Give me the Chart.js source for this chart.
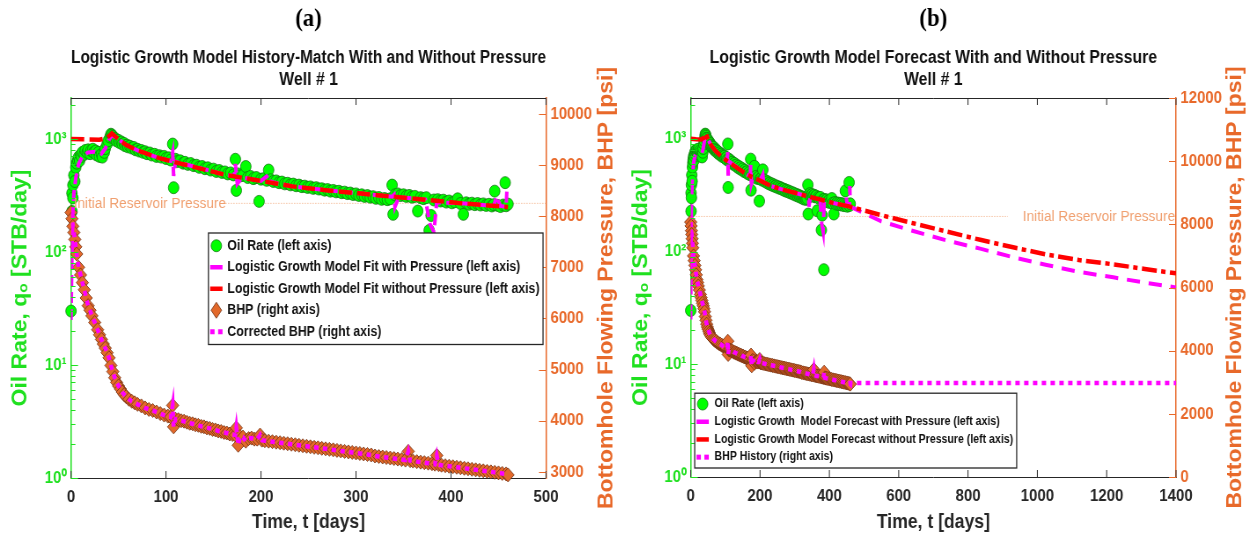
<!DOCTYPE html>
<html>
<head>
<meta charset="utf-8">
<script src="https://cdn.jsdelivr.net/npm/chart.js@4.4.1/dist/chart.umd.min.js"></script>
<style>
  html, body { margin: 0; padding: 0; background: #fff; }
  #wrap { position: relative; width: 1253px; height: 539px; overflow: hidden; }
  .panel { position: absolute; top: 0; height: 539px; overflow: hidden; }
  #pa { left: 0; width: 626px; }
  #pb { left: 626px; width: 627px; }
  /* the source figure is squeezed sideways; same here */
  canvas { transform: scaleX(0.88); transform-origin: 0 0; }
</style>
</head>
<body>
<div id="wrap">
  <div class="panel" id="pa"><canvas id="chartA" width="711" height="539"></canvas></div>
  <div class="panel" id="pb"><canvas id="chartB" width="713" height="539"></canvas></div>
</div>
<script>
// ---- values ----
// oil rate history, STB/day
var oilDays = [0,1,1,2,2,3,4,5,6,7,8,9,10,11,12,14,15,17,18,20,21,23,24,26,27,29,30,32,33,35,36,38,39,41,42,43,44,45,47,48,
  50,51,53,54,56,57,59,60,62,64,66,68,70,72,74,76,78,80,83,85,88,90,93,95,98,100,103,105,107,108,110,112,115,118,120,123,126,129,132,135,
  138,141,144,147,150,153,156,159,162,165,168,171,173,174,176,178,181,184,186,189,192,195,198,200,203,206,208,210,213,216,219,222,225,228,
  231,234,237,240,243,246,249,252,255,258,261,264,267,270,273,276,279,282,285,288,291,294,297,300,303,306,309,312,315,318,321,324,327,330,
  333,336,338,339,341,344,347,350,353,356,359,362,365,368,371,374,377,379,382,384,386,389,392,395,398,401,404,407,410,413,416,419,422,425,
  428,431,434,437,440,443,445,446,449,452,455,457,458,460];
var oilRate = [30,228,331,390,300,477,420,560,610,650,690,640,720,700,760,730,790,760,800,740,790,810,760,780,720,760,700,730,690,760,820,900,960,1040,1100,1080,1050,1010,1000,960,
  970,930,940,900,910,870,880,850,860,830,840,800,810,780,790,760,770,740,750,720,730,700,710,690,700,670,680,650,900,370,660,630,640,610,620,595,605,580,585,560,
  570,545,555,530,540,515,525,505,510,490,500,480,660,350,490,470,475,570,455,465,445,455,280,440,445,430,530,435,420,425,410,415,400,405,
  392,398,385,390,378,382,372,376,365,370,360,362,352,356,345,350,340,344,334,338,328,332,322,326,316,320,310,315,305,308,298,303,292,297,
  290,295,390,215,320,326,315,320,310,316,305,310,230,302,296,302,155,210,288,69,290,282,287,276,282,272,278,295,268,215,272,264,270,262,
  268,260,266,258,264,255,262,345,258,252,260,410,256,265];

// logistic growth model, history period, STB/day
var fitDays = [0,15,30,38,43,50,58,70,93,120,163,200,233,268,303,338,373,410,440,460];
var fitNoP  = [1000,990,985,1020,1120,990,885,790,675,590,480,425,380,352,330,308,290,270,258,250];
var fitPDays = [0,1,2,3,5,8,12,18,25,32,36,40,43,50,58,70,93,105,107,108,110,140,163,172,173,175,180,200,208,210,
  233,268,303,338,340,341,345,373,378,382,385,410,440,445,448,452,456,458,459];
var fitP = [25,95,230,330,450,600,700,760,770,740,820,980,1080,990,885,790,675,640,760,470,630,540,480,470,600,400,455,425,480,418,
  380,352,330,308,320,250,305,290,175,150,275,270,258,255,310,255,252,252,380];

// logistic growth model, forecast period, STB/day
var fcDays = [460,550,642,740,835,930,1027,1120,1219,1310,1400];
var fcNoP  = [250,210,178,150,127,109,94,84,77,70,64];
var fcP    = [250,185,152,125,106,89,76,66,59,53,48];

// bottomhole flowing pressure, psi
var bhpDays = [0,1,2,3,4,5,6,8,10,12,14,16,18,20,22,25,28,30,32,34,36,38,40,42,44,46,48,50,52,54,56,58,61,64,67,70,74,78,82,86,
  90,94,98,102,105,107,108,110,113,116,119,122,125,128,131,134,137,140,143,146,149,152,155,158,161,164,167,170,173,174,176,178,181,184,187,
  190,193,196,199,201,204,208,212,216,220,224,228,232,236,240,244,248,252,256,260,264,268,272,276,280,284,288,292,296,300,304,308,312,316,
  320,324,328,332,336,340,344,348,352,355,357,360,364,368,372,376,380,383,385,387,390,394,398,402,406,410,414,418,422,426,430,434,438,442,
  446,450,454,458,460];
var bhpPsi = [8070,7950,7800,7680,7545,7400,7260,7000,6850,6700,6560,6400,6250,6160,6050,5920,5780,5680,5590,5500,5420,5330,5230,5080,4960,4840,4750,4680,4620,4560,4510,4470,4420,4380,4350,4320,4290,4250,4220,4200,
  4170,4140,4110,4090,4070,4300,3880,4030,4020,4000,3990,3970,3950,3940,3920,3910,3890,3880,3860,3850,3830,3820,3800,3790,3770,3760,3740,3730,3720,3860,3520,3690,3680,3600,3650,
  3660,3640,3640,3720,3620,3610,3600,3590,3580,3570,3560,3550,3540,3530,3520,3510,3500,3490,3480,3470,3460,3450,3440,3430,3420,3410,3400,3390,3380,3370,3360,3350,3340,3330,
  3310,3300,3290,3280,3270,3260,3250,3240,3230,3400,3220,3210,3200,3190,3180,3170,3160,3150,3320,3140,3130,3120,3110,3100,3090,3080,3070,3060,3050,3040,3030,3020,3010,3000,
  2990,2980,2970,2960,2940];
// BHP held constant over the forecast
var bhpFlatDays = [460, 1400];
var bhpFlat = [2980, 2980];

var initPressure = 8250;
var initLineA = [160, 500];
var initLineB = [0, 915];

var rateTicks = [1, 10, 100, 1000];
var rateLabels = ['10\u2070', '10\u00b9', '10\u00b2', '10\u00b3'];
var bhpTicksA = [3000, 4000, 5000, 6000, 7000, 8000, 9000, 10000];
var bhpTicksB = [0, 2000, 4000, 6000, 8000, 10000, 12000];
var timeTicksA = [0, 100, 200, 300, 400, 500];
var timeTicksB = [0, 200, 400, 600, 800, 1000, 1200, 1400];

// ---- styling ----
var S = 0.88; // horizontal squeeze applied by css
var NARROW = '"Liberation Sans", Arial, sans-serif';
var WIDE = '"Liberation Sans", Arial, sans-serif';
var GREEN = '#1fe01f';
var ORANGE = '#e8692a';
var INK = '#262626';

function pts(xs, ys) {
  return xs.map(function (x, i) { return { x: x, y: ys[i] }; });
}

function setTicks(list) {
  return function (scale) { scale.ticks = list.map(function (v) { return { value: v }; }); };
}

function plain(v) { return String(v); }

function logTicks(scale) {
  var t = [];
  rateTicks.forEach(function (d) {
    for (var m = 1; m <= 9; m++) {
      if (d * m <= scale.max) t.push({ value: d * m, major: m === 1 });
    }
  });
  scale.ticks = t;
}

// matlab-like box: top edge and inward tick marks
var frame = {
  id: 'frame',
  afterDatasetsDraw: function (chart) {
    var ctx = chart.ctx, a = chart.chartArea, s = chart.scales;
    ctx.save();
    ctx.lineWidth = 1;
    ctx.strokeStyle = INK;
    ctx.beginPath();
    ctx.moveTo(a.left, a.top + 0.5); ctx.lineTo(a.right, a.top + 0.5);
    s.x.ticks.forEach(function (t) {
      var px = s.x.getPixelForValue(t.value);
      ctx.moveTo(px, a.bottom); ctx.lineTo(px, a.bottom - 7);
      ctx.moveTo(px, a.top); ctx.lineTo(px, a.top + 7);
    });
    ctx.stroke();
    ctx.strokeStyle = GREEN;
    ctx.beginPath();
    s.yL.ticks.forEach(function (t) {
      var py = Math.round(s.yL.getPixelForValue(t.value)) + 0.5;
      ctx.moveTo(a.left, py); ctx.lineTo(a.left + (t.major ? 8 : 5), py);
    });
    ctx.stroke();
    ctx.strokeStyle = ORANGE;
    ctx.beginPath();
    s.yR.ticks.forEach(function (t) {
      var py = Math.round(s.yR.getPixelForValue(t.value)) + 0.5;
      ctx.moveTo(a.right, py); ctx.lineTo(a.right - 8, py);
    });
    ctx.stroke();
    ctx.restore();
  }
};

// "Initial Reservoir Pressure" text next to its line
var initLabel = {
  id: 'initLabel',
  afterDatasetsDraw: function (chart, args, o) {
    var ctx = chart.ctx, a = chart.chartArea;
    var y = chart.scales.yR.getPixelForValue(initPressure);
    ctx.save();
    ctx.font = o.font;
    ctx.fillStyle = o.color;
    ctx.textBaseline = 'middle';
    if (o.side === 'left') {
      ctx.textAlign = 'left';
      ctx.fillText(o.text, a.left + 3, y);
    } else {
      ctx.textAlign = 'right';
      ctx.fillText(o.text, a.right - 1, y);
    }
    ctx.restore();
  }
};

// right axis title reads bottom-to-top like the left one
var rightTitle = {
  id: 'rightTitle',
  afterDraw: function (chart, args, o) {
    var ctx = chart.ctx, s = chart.scales.yR, a = chart.chartArea;
    ctx.save();
    ctx.translate(s.right - o.offset, (a.top + a.bottom) / 2);
    ctx.rotate(-Math.PI / 2);
    ctx.font = o.font;
    ctx.fillStyle = ORANGE;
    ctx.textAlign = 'center';
    ctx.textBaseline = 'middle';
    ctx.fillText(o.text, 0, 0);
    ctx.restore();
  }
};

function drawKey(ctx, d, x, y) {
  if (d.key === 'circle') {
    ctx.beginPath(); ctx.arc(x, y, 6, 0, Math.PI * 2);
    ctx.fillStyle = d.pointBackgroundColor; ctx.fill();
    ctx.strokeStyle = d.pointBorderColor; ctx.lineWidth = 0.8; ctx.stroke();
  } else if (d.key === 'line') {
    ctx.beginPath(); ctx.moveTo(x - 7, y); ctx.lineTo(x + 7, y);
    ctx.strokeStyle = d.borderColor; ctx.lineWidth = 4.5; ctx.stroke();
  } else if (d.key === 'diamond') {
    ctx.beginPath(); ctx.moveTo(x, y - 8); ctx.lineTo(x + 6, y); ctx.lineTo(x, y + 8); ctx.lineTo(x - 6, y); ctx.closePath();
    ctx.fillStyle = d.pointBackgroundColor; ctx.fill();
    ctx.strokeStyle = d.pointBorderColor; ctx.lineWidth = 0.8; ctx.stroke();
  } else if (d.key === 'dots') {
    ctx.fillStyle = d.borderColor;
    ctx.fillRect(x - 7, y - 2.5, 5, 5);
    ctx.fillRect(x + 2, y - 2.5, 5, 5);
  }
}

// boxed legend drawn over the data, as in the figure
var boxLegend = {
  id: 'boxLegend',
  afterDraw: function (chart, args, o) {
    var ctx = chart.ctx, a = chart.chartArea;
    var items = chart.data.datasets.filter(function (d) { return d.key; });
    ctx.save();
    ctx.font = o.font;
    var tw = 0;
    items.forEach(function (d) { tw = Math.max(tw, ctx.measureText(d.label).width); });
    var w = o.textX + tw + 4, h = items.length * o.rowH + 4;
    var x0 = o.corner === 'ne' ? a.right - o.dx - w : a.left + o.dx;
    var y0 = o.corner === 'ne' ? a.top + o.dy : a.bottom - o.dy - h;
    ctx.fillStyle = '#fff';
    ctx.fillRect(x0, y0, w, h);
    ctx.strokeStyle = INK;
    ctx.lineWidth = 1.3;
    ctx.strokeRect(x0, y0, w, h);
    items.forEach(function (d, i) {
      var cy = y0 + 2 + o.rowH * (i + 0.5);
      drawKey(ctx, d, x0 + o.markX, cy);
      ctx.fillStyle = '#111';
      ctx.textBaseline = 'middle';
      ctx.textAlign = 'left';
      ctx.fillText(d.label, x0 + o.textX, cy);
    });
    ctx.restore();
  }
};

function oilSet() {
  return {
    label: 'Oil Rate (left axis)', key: 'circle', data: pts(oilDays, oilRate), yAxisID: 'yL',
    showLine: false, pointRadius: 6, pointBackgroundColor: '#00ff00', pointBorderColor: '#137a13',
    pointBorderWidth: 0.8, borderColor: '#137a13', backgroundColor: '#00ff00', order: 5, clip: 10
  };
}

function bhpSet(label) {
  return {
    label: label, key: label ? 'diamond' : undefined, data: pts(bhpDays, bhpPsi), yAxisID: 'yR',
    showLine: false, pointStyle: 'rectRot', pointRadius: 7, pointBackgroundColor: '#e2692b',
    pointBorderColor: '#6e2f10', pointBorderWidth: 0.8, order: 4, clip: 10
  };
}

function scalesFor(p) {
  var tickFont = { family: NARROW, size: 17, weight: 'bold' };
  return {
    x: {
      type: 'linear', min: 0, max: p.tMax,
      afterBuildTicks: setTicks(p.timeTicks),
      afterFit: function (s) { s.height = p.xH; },
      grid: { display: false, drawTicks: false },
      border: { color: INK, width: 1 },
      ticks: { padding: 9, color: INK, font: tickFont, autoSkip: false, maxRotation: 0, callback: plain },
      title: { display: true, text: 'Time, t [days]', color: INK, font: { family: NARROW, size: 20, weight: 'bold' }, padding: { top: 0, bottom: 5 } }
    },
    yL: {
      type: 'logarithmic', position: 'left', min: 1, max: 2300,
      afterBuildTicks: logTicks,
      afterFit: function (s) { s.width = p.leftW / S; },
      grid: { display: false, drawTicks: false },
      border: { color: GREEN, width: 1.5 },
      ticks: {
        padding: 5, color: GREEN, font: tickFont, autoSkip: false,
        callback: function (v) { var i = rateTicks.indexOf(v); return i < 0 ? '' : rateLabels[i]; }
      },
      title: { display: true, text: 'Oil Rate, q\u2092 [STB/day]', color: GREEN, font: { family: WIDE, size: 23, weight: 'bold' }, padding: { top: p.leftTitlePad, bottom: 0 } }
    },
    yR: {
      type: 'linear', position: 'right', min: p.pMin, max: p.pMax,
      afterBuildTicks: setTicks(p.bhpTicks),
      afterFit: function (s) { s.width = p.rightW; },
      grid: { display: false, drawTicks: false },
      border: { color: ORANGE, width: 1.5 },
      ticks: { padding: 5, color: ORANGE, font: tickFont, autoSkip: false, callback: plain },
      title: { display: false }
    }
  };
}

function commonPlugins(p) {
  return {
    legend: { display: false },
    tooltip: { enabled: false },
    title: {
      display: true, text: p.tag, fullSize: false, color: '#000',
      font: { family: '"Liberation Serif", "Times New Roman", serif', size: 26, weight: 'bold' },
      padding: { top: 4, bottom: 5 }
    },
    subtitle: {
      display: true, text: [p.title, 'Well # 1'], fullSize: false, color: '#111',
      font: { family: NARROW, size: 18, weight: 'bold', lineHeight: 22 / 18 },
      padding: { top: 7, bottom: 6.8 }
    },
    initLabel: { text: 'Initial Reservoir Pressure', side: p.initSide, color: '#f0a070', font: '15.5px ' + NARROW },
    rightTitle: { text: 'Bottomhole Flowing Pressure, BHP [psi]', font: 'bold 23px ' + WIDE, offset: p.rightTitleOff / S },
    boxLegend: p.legend
  };
}

// ---- panel (a): history match ----
var panelA = {
  tag: '(a)', title: 'Logistic Growth Model History-Match With and Without Pressure',
  tMax: 500, timeTicks: timeTicksA, pMin: 2880, pMax: 10310, bhpTicks: bhpTicksA,
  leftW: 71, rightW: 711 - 546 / S, xH: 61, leftTitlePad: 10, rightTitleOff: 19, initSide: 'left',
  legend: { corner: 'ne', dx: 3 / S, dy: 135, rowH: 21.5, markX: 9, textX: 21.5, font: 'bold 14px ' + NARROW }
};

new Chart(document.getElementById('chartA'), {
  type: 'line',
  data: {
    datasets: [
      oilSet(),
      {
        label: 'Logistic Growth Model Fit with Pressure (left axis)', key: 'line', data: pts(fitPDays, fitP), yAxisID: 'yL',
        borderColor: '#ff00ff', borderWidth: 4, borderDash: [11, 6], pointRadius: 0, order: 2
      },
      {
        label: 'Logistic Growth Model Fit without Pressure (left axis)', key: 'line', data: pts(fitDays, fitNoP), yAxisID: 'yL',
        borderColor: '#ff0000', borderWidth: 4.5, borderDash: [15, 6], pointRadius: 0, order: 1
      },
      bhpSet('BHP (right axis)'),
      {
        label: 'Corrected BHP (right axis)', key: 'dots', data: pts(bhpDays, bhpPsi), yAxisID: 'yR',
        borderColor: '#ff00ff', borderWidth: 4.5, borderDash: [5, 5], pointRadius: 0, order: 3
      },
      {
        label: 'Initial Reservoir Pressure', data: pts(initLineA, [initPressure, initPressure]), yAxisID: 'yR',
        borderColor: '#f0a070', borderWidth: 1, borderDash: [1, 2], pointRadius: 0, order: 6
      }
    ]
  },
  options: {
    responsive: false, animation: false, devicePixelRatio: 1,
    layout: { padding: 0 },
    scales: scalesFor(panelA),
    plugins: commonPlugins(panelA)
  },
  plugins: [frame, initLabel, rightTitle, boxLegend]
});

// ---- panel (b): forecast ----
var panelB = {
  tag: '(b)', title: 'Logistic Growth Model Forecast With and Without Pressure',
  tMax: 1400, timeTicks: timeTicksB, pMin: 0, pMax: 12000, bhpTicks: bhpTicksB,
  leftW: 64.7, rightW: 713 - 550 / S, xH: 62, leftTitlePad: 3.5, rightTitleOff: 18, initSide: 'right',
  legend: { corner: 'sw', dx: 4 / S, dy: 9, rowH: 17.7, markX: 9, textX: 22.5, font: 'bold 12px ' + NARROW }
};

new Chart(document.getElementById('chartB'), {
  type: 'line',
  data: {
    datasets: [
      oilSet(),
      {
        label: 'Logistic Growth  Model Forecast with Pressure (left axis)', key: 'line',
        data: pts(fitPDays.concat(fcDays), fitP.concat(fcP)), yAxisID: 'yL',
        borderColor: '#ff00ff', borderWidth: 4, borderDash: [15, 10], pointRadius: 0, order: 2
      },
      {
        label: 'Logistic Growth Model Forecast without Pressure (left axis)', key: 'line',
        data: pts(fitDays.concat(fcDays), fitNoP.concat(fcNoP)), yAxisID: 'yL',
        borderColor: '#ff0000', borderWidth: 4.5, borderDash: [17, 5, 5, 5], pointRadius: 0, order: 1
      },
      bhpSet(''),
      {
        label: 'BHP History (right axis)', key: 'dots',
        data: pts(bhpDays.concat(bhpFlatDays), bhpPsi.concat(bhpFlat)), yAxisID: 'yR',
        borderColor: '#ff00ff', borderWidth: 4.5, borderDash: [5, 5], pointRadius: 0, order: 3
      },
      {
        label: 'Initial Reservoir Pressure', data: pts(initLineB, [initPressure, initPressure]), yAxisID: 'yR',
        borderColor: '#f0a070', borderWidth: 1, borderDash: [1, 2], pointRadius: 0, order: 6
      }
    ]
  },
  options: {
    responsive: false, animation: false, devicePixelRatio: 1,
    layout: { padding: 0 },
    scales: scalesFor(panelB),
    plugins: commonPlugins(panelB)
  },
  plugins: [frame, initLabel, rightTitle, boxLegend]
});
</script>
</body>
</html>
